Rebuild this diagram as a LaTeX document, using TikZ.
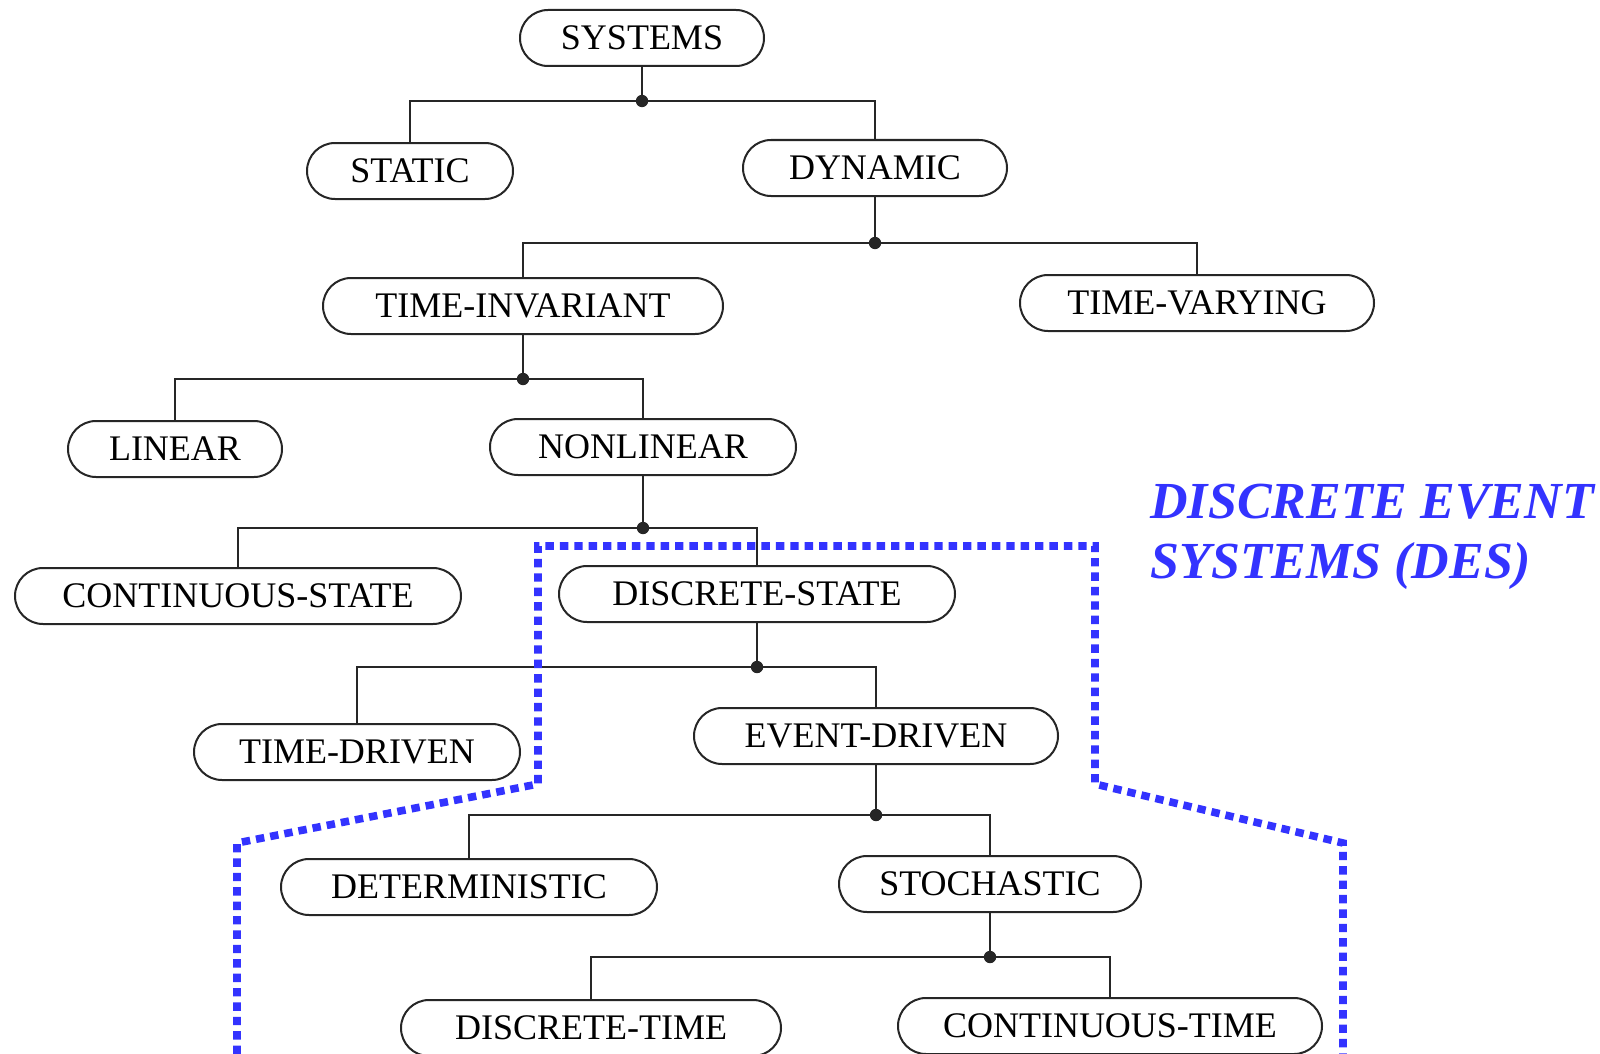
\documentclass[tikz,border=0pt]{standalone}
\usepackage{fontspec}
\setmainfont{Liberation Serif}
\usetikzlibrary{calc}
\definecolor{desblue}{RGB}{51,51,255}
\tikzstyle{block} = [rectangle, rounded corners=14pt, minimum height=28pt, inner sep=0pt, text centered, draw=black!85, line width=1pt, fill=white, font=\fontsize{18pt}{20pt}\selectfont]
\tikzstyle{link} = [line width=1pt, black!85]

\begin{document}
\begin{tikzpicture}[x=0.5pt, y=-0.5pt]
    \useasboundingbox (0,0) rectangle (1600,1054);

    % Levels of the tree
    \node[block, minimum width=122pt] (sys) at (642,38) {SYSTEMS};
    \node[block, minimum width=103pt] (static) at (410,171) {STATIC};
    \node[block, minimum width=132pt] (dyn) at (875,168) {DYNAMIC};
    \node[block, minimum width=200pt] (tinv) at (523,306) {TIME-INVARIANT};
    \node[block, minimum width=177pt] (tvar) at (1197,303) {TIME-VARYING};
    \node[block, minimum width=107pt] (lin) at (175,449) {LINEAR};
    \node[block, minimum width=153pt] (nonlin) at (643,447) {NONLINEAR};
    \node[block, minimum width=223pt] (cont) at (238,596) {CONTINUOUS-STATE};
    \node[block, minimum width=198pt] (disc) at (757,594) {DISCRETE-STATE};
    \node[block, minimum width=163pt] (tdrv) at (357,752) {TIME-DRIVEN};
    \node[block, minimum width=182pt] (edrv) at (876,736) {EVENT-DRIVEN};
    \node[block, minimum width=188pt] (det) at (469,887) {DETERMINISTIC};
    \node[block, minimum width=151pt] (stoch) at (990,884) {STOCHASTIC};
    \node[block, minimum width=190pt] (dtime) at (591,1028) {DISCRETE-TIME};
    \node[block, minimum width=212pt] (ctime) at (1110,1026) {CONTINUOUS-TIME};

    % Branches
    \foreach \p/\d/\a/\b in {sys/34/static/dyn, dyn/46/tinv/tvar, tinv/44/lin/nonlin,
        nonlin/52/cont/disc, disc/44/tdrv/edrv, edrv/50/det/stoch, stoch/44/dtime/ctime}
    {
        \path (\p.south) ++(0,\d) coordinate (j\p);
        \draw[link] (\a.north) |- (j\p) -| (\b.north);
        \draw[link] (\p.south) -- (j\p);
        \fill[black!85] (j\p) circle (3.1pt);
    }

    % DES region
    \draw[desblue, line width=3.8pt, dash pattern=on 4.2pt off 3pt]
        (237,1054) -- (237,843) -- (538,784) -- (538,546) -- (1095,546)
        -- (1095,784) -- (1343,843) -- (1343,1054);
    \node[anchor=north west, inner sep=0pt, align=left, text=desblue,
        font=\fontsize{26pt}{30pt}\selectfont\bfseries\itshape] (des) at (1150,484)
        {DISCRETE EVENT\\SYSTEMS (DES)};

\end{tikzpicture}
\end{document}
